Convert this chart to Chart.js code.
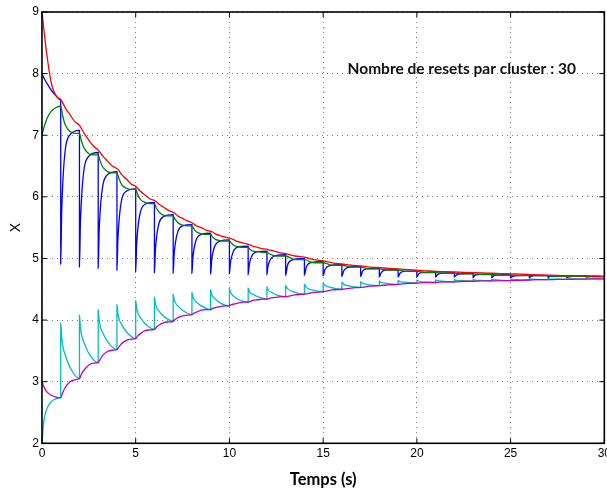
<!DOCTYPE html>
<html>
<head>
<meta charset="utf-8">
<script src="https://cdn.jsdelivr.net/npm/chart.js@4.4.1/dist/chart.umd.min.js"></script>
<style>
  html, body { margin: 0; padding: 0; background: #fff; overflow: hidden; }
  #wrap { width: 607px; height: 491px; overflow: hidden; }
</style>
</head>
<body>
<div id="wrap"><canvas id="chart" width="614" height="491"></canvas></div>
<script>
// time grid for the curves that jump at each reset (blue, cyan)
var tJump = [0,0.1,0.25,0.5,0.75,
  1,1,1.05,1.12,1.25,1.5,
  2,2,2.05,2.12,2.25,2.5,
  3,3,3.05,3.12,3.25,3.5,
  4,4,4.05,4.12,4.25,4.5,
  5,5,5.05,5.12,5.25,5.5,
  6,6,6.05,6.12,6.25,6.5,
  7,7,7.05,7.12,7.25,7.5,
  8,8,8.05,8.12,8.25,8.5,
  9,9,9.05,9.12,9.25,9.5,
  10,10,10.05,10.12,10.25,10.5,
  11,11,11.05,11.12,11.25,11.5,
  12,12,12.05,12.12,12.25,12.5,
  13,13,13.1,13.3, 14,14,14.1,14.3, 15,15,15.1,15.3, 16,16,16.1,16.3,
  17,17,17.1,17.3, 18,18,18.1,18.3, 19,19,19.1,19.3, 20,20,20.1,20.3,
  21,21,21.1,21.3, 22,22,22.1,22.3, 23,23,23.1,23.3, 24,24,24.1,24.3,
  25,25,25.1,25.3, 26,26,26.1,26.3, 27,27,27.1,27.3, 28,28,28.1,28.3,
  29,29,29.1,29.3,
  30];

// time grid for the continuous curves (red, green, magenta)
var tSmooth = [0,0.1,0.25,0.5,0.75,
  1,1.1,1.25,1.5,1.75,
  2,2.1,2.25,2.5,2.75,
  3,3.1,3.25,3.5,3.75,
  4,4.1,4.25,4.5,4.75,
  5,5.1,5.25,5.5,5.75,
  6,6.1,6.25,6.5,6.75,
  7,7.1,7.25,7.5,7.75,
  8,8.1,8.25,8.5,8.75,
  9,9.1,9.25,9.5,9.75,
  10,10.1,10.25,10.5,10.75,
  11,11.1,11.25,11.5,11.75,
  12,12.1,12.25,12.5,12.75,
  13,13.5,14,14.5,15,15.5,16,16.5,17,17.5,18,18.5,19,19.5,20,20.5,
  21,21.5,22,22.5,23,23.5,24,24.5,25,25.5,26,26.5,27,27.5,28,28.5,29,29.5,
  30];

var blueX = [8.0,7.93,7.85,7.73,7.64,
  7.57,4.91,5.73,6.28,6.78,7.01,
  7.08,4.86,5.57,6.03,6.46,6.66,
  6.72,4.84,5.44,5.83,6.19,6.36,
  6.41,4.81,5.31,5.64,5.95,6.09,
  6.13,4.79,5.22,5.50,5.75,5.88,
  5.91,4.77,5.13,5.36,5.58,5.68,
  5.71,4.76,5.06,5.26,5.44,5.53,
  5.55,4.76,5.01,5.17,5.32,5.39,
  5.41,4.75,4.96,5.10,5.22,5.28,
  5.30,4.75,4.92,5.03,5.14,5.19,
  5.20,4.74,4.88,4.98,5.07,5.11,
  5.12,4.74,4.86,4.94,5.01,5.05,
  5.06,4.73,4.89,4.97, 5.00,4.73,4.86,4.93, 4.95,4.72,4.82,4.88, 4.90,4.71,4.80,4.85,
  4.87,4.71,4.79,4.83, 4.84,4.70,4.77,4.81, 4.82,4.70,4.76,4.79, 4.80,4.70,4.75,4.77,
  4.78,4.70,4.74,4.76, 4.77,4.70,4.73,4.75, 4.76,4.69,4.73,4.74, 4.75,4.69,4.72,4.73,
  4.74,4.69,4.71,4.72, 4.73,4.69,4.71,4.72, 4.72,4.69,4.71,4.71, 4.72,4.69,4.70,4.71,
  4.71,4.70,4.70,4.71,
  4.71];

var cyanX = [2.0,2.36,2.55,2.68,2.72,
  2.74,3.95,3.73,3.56,3.43,3.23,
  3.05,4.08,3.89,3.75,3.63,3.46,
  3.31,4.17,4.01,3.89,3.79,3.65,
  3.52,4.25,4.11,4.01,3.93,3.81,
  3.70,4.31,4.20,4.11,4.04,3.94,
  3.85,4.37,4.27,4.20,4.14,4.06,
  3.98,4.42,4.34,4.28,4.23,4.16,
  4.09,4.45,4.38,4.33,4.29,4.23,
  4.17,4.49,4.43,4.38,4.34,4.28,
  4.23,4.51,4.46,4.42,4.38,4.33,
  4.29,4.52,4.48,4.44,4.42,4.38,
  4.34,4.54,4.50,4.47,4.45,4.41,
  4.38,4.56,4.51,4.47, 4.42,4.58,4.53,4.50, 4.46,4.60,4.56,4.54, 4.50,4.61,4.58,4.56,
  4.53,4.62,4.60,4.58, 4.56,4.63,4.61,4.60, 4.58,4.64,4.625,4.615, 4.60,4.645,4.63,4.62,
  4.61,4.65,4.64,4.63, 4.62,4.655,4.645,4.64, 4.63,4.66,4.65,4.645, 4.635,4.66,4.655,4.65,
  4.64,4.665,4.66,4.655, 4.65,4.67,4.665,4.66, 4.655,4.67,4.665,4.665, 4.66,4.67,4.67,4.67,
  4.665,4.67,4.67,4.67,
  4.67];

var redX = [9.0,8.72,8.33,7.84,7.64,
  7.58,7.53,7.44,7.33,7.22,
  7.16,7.11,7.03,6.92,6.82,
  6.76,6.72,6.66,6.58,6.50,
  6.46,6.43,6.36,6.29,6.21,
  6.17,6.14,6.09,6.03,5.97,
  5.94,5.92,5.88,5.83,5.78,
  5.75,5.73,5.69,5.65,5.61,
  5.58,5.56,5.53,5.50,5.46,
  5.44,5.43,5.40,5.37,5.35,
  5.33,5.32,5.30,5.27,5.25,
  5.23,5.22,5.20,5.18,5.16,
  5.15,5.14,5.13,5.11,5.09,
  5.08,5.04,5.02,4.98,4.96,4.93,4.91,4.89,4.88,4.86,4.85,4.84,4.83,4.82,4.81,4.80,
  4.79,4.785,4.78,4.775,4.77,4.765,4.76,4.755,4.75,4.745,4.74,4.735,4.73,4.725,4.72,4.72,4.72,4.715,
  4.71];

var greenX = [7.0,7.12,7.26,7.39,7.45,
  7.47,7.32,7.16,7.06,7.03,
  7.03,6.91,6.79,6.70,6.68,
  6.68,6.58,6.48,6.41,6.39,
  6.39,6.30,6.20,6.14,6.12,
  6.12,6.04,5.96,5.91,5.89,
  5.89,5.82,5.75,5.70,5.69,
  5.69,5.64,5.58,5.54,5.53,
  5.53,5.48,5.43,5.40,5.39,
  5.39,5.35,5.31,5.29,5.28,
  5.28,5.25,5.21,5.19,5.18,
  5.18,5.15,5.12,5.11,5.10,
  5.10,5.08,5.06,5.04,5.04,
  5.04,4.98,4.98,4.93,4.93,4.89,4.89,4.86,4.86,4.83,4.83,4.81,4.81,4.79,4.79,4.77,
  4.77,4.76,4.76,4.75,4.75,4.74,4.74,4.73,4.73,4.72,4.72,4.72,4.72,4.71,4.71,4.71,4.71,4.70,
  4.70];

var magentaX = [3.0,2.92,2.84,2.78,2.75,
  2.74,2.82,2.91,3.00,3.03,
  3.05,3.12,3.19,3.27,3.30,
  3.31,3.36,3.43,3.49,3.51,
  3.52,3.56,3.62,3.67,3.69,
  3.70,3.74,3.78,3.83,3.84,
  3.85,3.88,3.92,3.96,3.97,
  3.98,4.01,4.04,4.07,4.08,
  4.09,4.11,4.13,4.16,4.17,
  4.17,4.19,4.20,4.22,4.23,
  4.23,4.25,4.26,4.28,4.29,
  4.29,4.30,4.32,4.33,4.34,
  4.34,4.35,4.36,4.37,4.38,
  4.38,4.41,4.42,4.45,4.46,4.49,4.50,4.52,4.53,4.55,4.56,4.57,4.58,4.595,4.60,4.61,
  4.61,4.62,4.62,4.63,4.63,4.635,4.635,4.64,4.64,4.645,4.65,4.655,4.655,4.66,4.66,4.665,4.665,4.67,
  4.67];

var xTicks = [0, 5, 10, 15, 20, 25, 30];
var yTicks = [2, 3, 4, 5, 6, 7, 8, 9];
var xTitle = 'Temps (s)';
var yTitle = 'X';
var noteText = 'Nombre de resets par cluster : 30';
var noteAt = [16.3, 8.07];

function pts(t, v) {
  return t.map(function (tt, i) { return { x: tt, y: v[i] }; });
}

function line(data, color, order) {
  return {
    data: data,
    borderColor: color,
    borderWidth: 1.3,
    pointRadius: 0,
    fill: false,
    cubicInterpolationMode: 'monotone',
    order: order
  };
}

// box, inward ticks and the text note, like the matlab axes
var frame = {
  id: 'frame',
  afterDatasetsDraw: function (chart) {
    var ctx = chart.ctx, a = chart.chartArea;
    var xs = chart.scales.x, ys = chart.scales.y;
    ctx.save();
    ctx.strokeStyle = '#000';
    ctx.lineWidth = 1;
    ctx.beginPath();
    xTicks.forEach(function (v) {
      var px = xs.getPixelForValue(v);
      ctx.moveTo(px, a.bottom); ctx.lineTo(px, a.bottom - 5);
      ctx.moveTo(px, a.top); ctx.lineTo(px, a.top + 5);
    });
    yTicks.forEach(function (v) {
      var py = ys.getPixelForValue(v);
      ctx.moveTo(a.left, py); ctx.lineTo(a.left + 5, py);
      ctx.moveTo(a.right, py); ctx.lineTo(a.right - 5, py);
    });
    ctx.stroke();
    ctx.lineWidth = 1.6;
    ctx.strokeRect(a.left, a.top, a.right - a.left, a.bottom - a.top);
    ctx.font = 'bold 15.5px Lato';
    ctx.fillStyle = '#111';
    ctx.textBaseline = 'middle';
    ctx.textAlign = 'left';
    ctx.fillText(noteText, xs.getPixelForValue(noteAt[0]), ys.getPixelForValue(noteAt[1]));
    ctx.restore();
  }
};

function draw() {
  var ctx = document.getElementById('chart').getContext('2d');
  new Chart(ctx, {
    type: 'line',
    data: {
      datasets: [
        line(pts(tJump, blueX), '#0000ff', 5),
        line(pts(tSmooth, greenX), '#008000', 4),
        line(pts(tSmooth, redX), '#ff0000', 3),
        line(pts(tJump, cyanX), '#00bfbf', 2),
        line(pts(tSmooth, magentaX), '#bf00bf', 1)
      ]
    },
    options: {
      responsive: false,
      animation: false,
      devicePixelRatio: 1,
      layout: { padding: { top: 12, left: 0, right: 0, bottom: 0 } },
      plugins: { legend: { display: false }, tooltip: { enabled: false } },
      scales: {
        x: {
          type: 'linear',
          min: 0, max: 30,
          afterBuildTicks: function (s) { s.ticks = xTicks.map(function (v) { return { value: v }; }); },
          ticks: { autoSkip: false, maxRotation: 0, padding: 3, color: '#000',
                   font: { family: 'Liberation Sans', size: 12 } },
          grid: { color: '#808080', lineWidth: 1, drawTicks: false },
          border: { display: false, dash: [1, 4] },
          title: { display: true, text: xTitle, color: '#000',
                   font: { family: 'Lato', size: 16.5, weight: 'bold' },
                   padding: { top: 6, bottom: 1.5 } }
        },
        y: {
          type: 'linear',
          min: 2, max: 9,
          afterBuildTicks: function (s) { s.ticks = yTicks.map(function (v) { return { value: v }; }); },
          ticks: { padding: 3, color: '#000',
                   font: { family: 'Liberation Sans', size: 12 } },
          grid: { color: '#808080', lineWidth: 1, drawTicks: false },
          border: { display: false, dash: [1, 4] },
          title: { display: true, text: yTitle, color: '#000',
                   font: { family: 'Liberation Sans', size: 14 },
                   padding: { top: 8, bottom: 4.5 } }
        }
      }
    },
    plugins: [frame]
  });
}

if (document.fonts && document.fonts.load) {
  document.fonts.load('bold 14px Lato').then(draw, draw);
} else {
  draw();
}
</script>
</body>
</html>
